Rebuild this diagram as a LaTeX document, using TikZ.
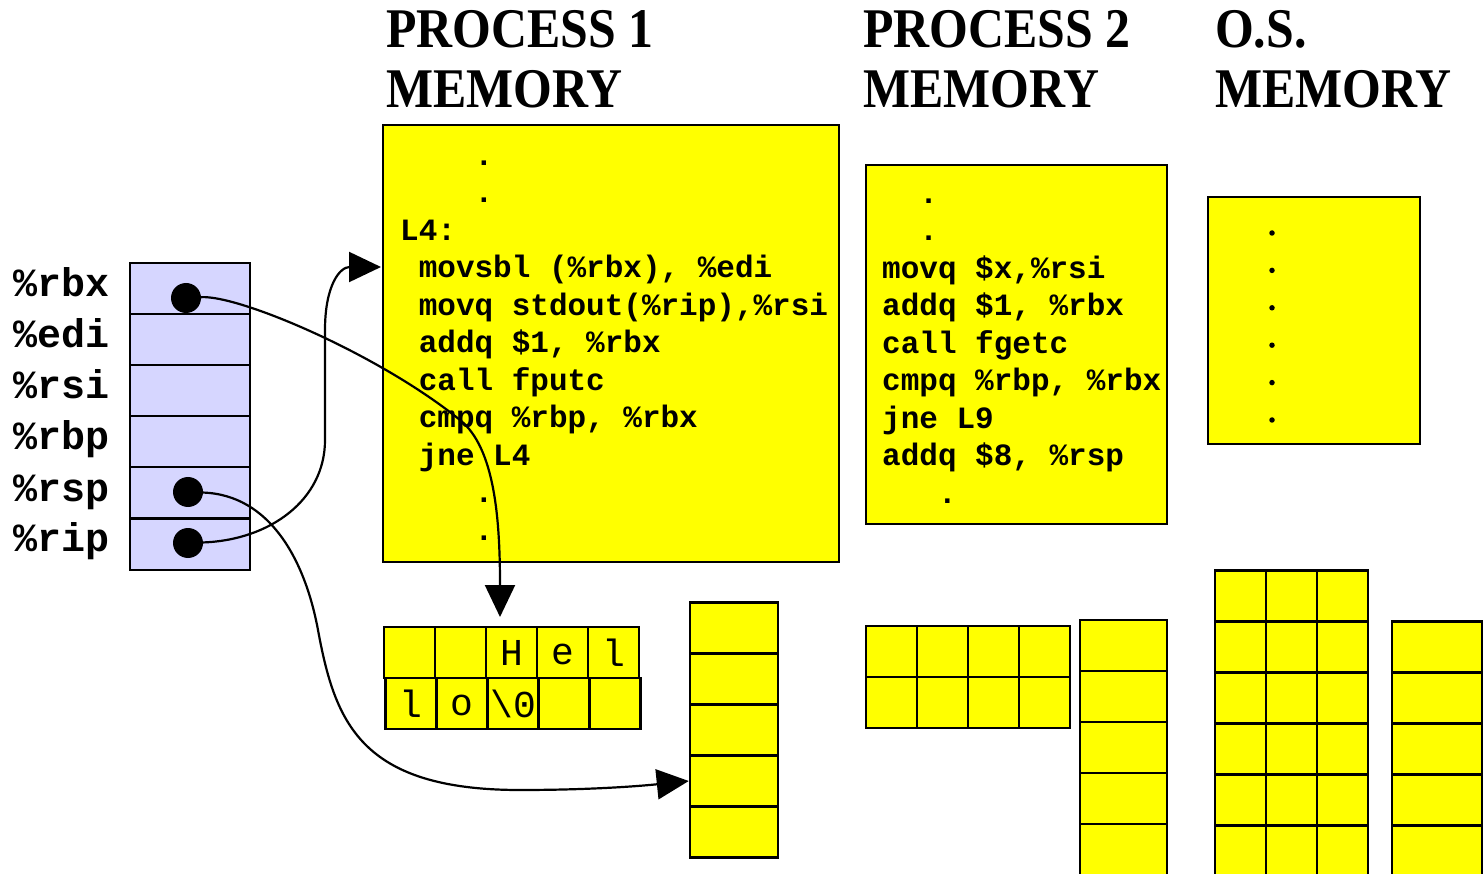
\documentclass[tikz,border=0pt]{standalone}
\usepackage{fontspec}
\setmainfont{Liberation Serif}
\setmonofont{Liberation Mono}
\newfontfamily\headfont[FakeStretch=0.89]{Liberation Serif}
\usetikzlibrary{arrows.meta}
\definecolor{memyellow}{RGB}{255,255,0}
\definecolor{regblue}{RGB}{214,214,255}
\newcommand{\codefont}{\fontsize{31}{37.5}\selectfont\ttfamily\bfseries}
\newcommand{\regfont}{\fontsize{40}{48}\selectfont\ttfamily\bfseries}
\newcommand{\cellfont}{\fontsize{38}{40}\selectfont\ttfamily}
\newcommand{\headfnt}{\headfont\fontsize{56}{60}\selectfont\bfseries}

\begin{document}
\begin{tikzpicture}[x=1pt,y=-1pt,
    box/.style={draw, line width=2.5pt, fill=memyellow, inner sep=0pt},
    reg/.style={draw, line width=2pt, fill=regblue, minimum width=120pt, minimum height=51pt},
    regname/.style={anchor=base west, inner sep=0pt, font=\regfont},
    cell/.style={draw, line width=2.5pt, fill=memyellow, minimum width=51pt, minimum height=51pt, inner sep=0pt, font=\cellfont},
    dot/.style={circle, fill=black, minimum size=30pt, inner sep=0pt},
    osdot/.style={circle, fill=black, minimum size=5.5pt, inner sep=0pt},
    head/.style={anchor=north west, align=left, inner sep=0pt, font=\headfnt},
    code/.style={anchor=north west, align=left, inner sep=0pt, font=\codefont},
    wire/.style={line width=2.2pt, -{Triangle[length=32pt,width=30pt]}}]

  \path[use as bounding box] (0,0) rectangle (1484,874);
  \clip (0,0) rectangle (1484,874);

  % headings
  \node[head] (h1) at (386,5) {\strut PROCESS 1\\MEMORY};
  \node[head] (h2) at (863,5) {\strut PROCESS 2\\MEMORY};
  \node[head] (h3) at (1215,5) {\strut O.S.\\MEMORY};

  % register file
  \foreach \r/\y/\b in {rbx/288.5/297, edi/339.5/348, rsi/390.5/399,
                        rbp/441.5/450, rsp/492.5/501, rip/544.5/551} {
    \node[reg] (r-\r) at (190,\y) {};
    \node[regname] (l-\r) at (13,\b) {\%\r};
  }
  \node[dot] (d-rbx) at (186,298) {};
  \node[dot] (d-rsp) at (188,492) {};
  \node[dot] (d-rip) at (188,543) {};

  % process 1 code
  \node[box, minimum width=456pt, minimum height=437pt] (mem1) at (611,343.5) {};
  \node[code] (c1) at (400,138.75) {\strut\ \ \ \ .\\
    \ \ \ \ .\\
    L4:\\
    \ movsbl (\%rbx), \%edi\\
    \ movq stdout(\%rip),\%rsi\\
    \ addq \$1, \%rbx\\
    \ call fputc\\
    \ cmpq \%rbp, \%rbx\\
    \ jne L4\\
    \ \ \ \ .\\
    \ \ \ \ .};

  % process 2 code
  \node[box, minimum width=301pt, minimum height=359pt] (mem2) at (1016.5,344.5) {};
  \node[code] (c2) at (882,176.75) {\strut\ \ .\\
    \ \ .\\
    movq \$x,\%rsi\\
    addq \$1, \%rbx\\
    call fgetc\\
    cmpq \%rbp, \%rbx\\
    jne L9\\
    addq \$8, \%rsp\\
    \ \ \ .};

  % o.s. code
  \node[box, minimum width=212pt, minimum height=247pt] (mem3) at (1314,320.5) {};
  \foreach \i in {0,...,5}
    \node[osdot] (os-\i) at (1272,{233+37.4*\i}) {};

  % process 1 data: string and stack
  \foreach \c/\t in {1/{},2/{},3/H,4/e,5/l}
    \node[cell] (s-1-\c) at ({358.5+51*\c},652.5) {\vphantom{H}\t};
  \foreach \c/\t in {1/l,2/o,3/\textbackslash0,4/{},5/{}}
    \node[cell] (s-2-\c) at ({360+51*\c},703.5) {\vphantom{H}\t};
  \foreach \r in {1,...,5}
    \node[cell, minimum width=88pt] (st1-\r) at (734,{577+51*\r}) {};

  % process 2 data
  \foreach \c in {1,...,4} {
    \node[cell] (p2-1-\c) at ({840.5+51*\c},651.5) {};
    \node[cell] (p2-2-\c) at ({840.5+51*\c},702.5) {};
  }
  \foreach \r in {1,...,5}
    \node[cell, minimum width=87pt] (st2-\r) at (1123.5,{594.5+51*\r}) {};

  % o.s. data
  \foreach \r in {1,...,6}
    \foreach \c in {1,2,3}
      \node[cell] (os-\r-\c) at ({1189.5+51*\c},{545+51*\r}) {};
  \foreach \r in {1,...,5}
    \node[cell, minimum width=90pt] (st3-\r) at (1437,{596+51*\r}) {};

  % pointers
  \coordinate (hTarget) at (500,617);
  \coordinate (codeIn) at (381,267);
  \draw[wire] (d-rbx) .. controls (240,295) and (380,355) .. (460,420)
    .. controls (495,448) and (500,520) .. (hTarget);
  \draw[wire] (d-rip) .. controls (270,540) and (325,500) .. (325,440)
    -- (325,330) .. controls (325,285) and (340,267) .. (codeIn);
  \draw[wire] (d-rsp) .. controls (270,495) and (305,560) .. (318,630)
    .. controls (335,722) and (360,790) .. (520,790)
    .. controls (600,790) and (650,785) .. (st1-4.west);
\end{tikzpicture}
\end{document}
